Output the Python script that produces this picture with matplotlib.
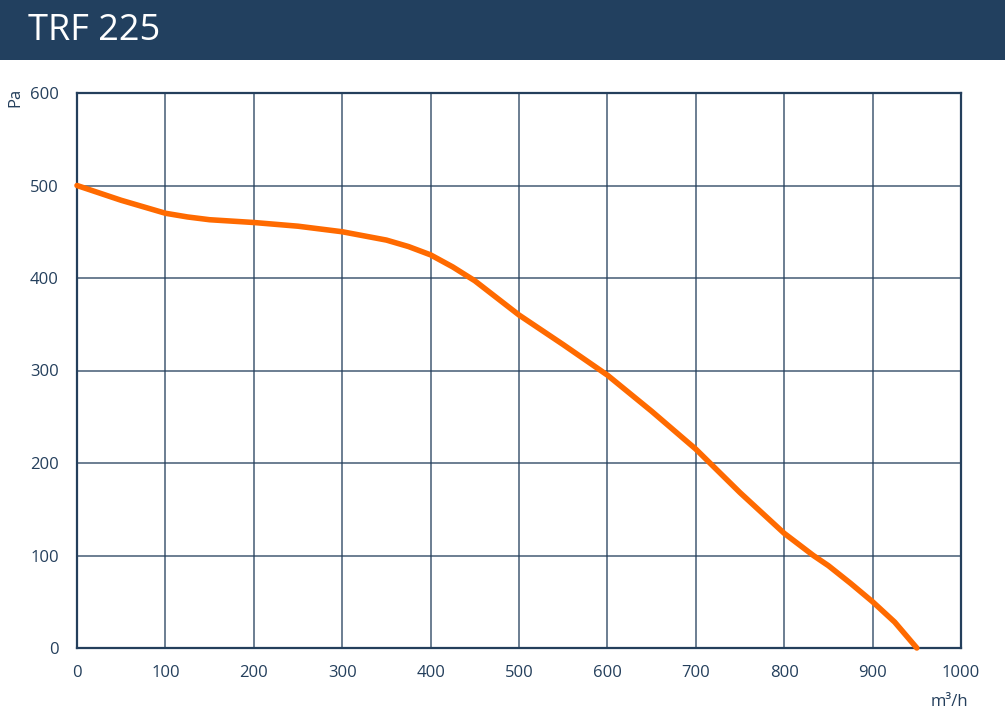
import matplotlib.pyplot as plt
from matplotlib.patches import Rectangle

# fan curve TRF 225
airflow = [0, 50, 100, 125, 150, 200, 250, 300, 350, 375, 400, 425, 450, 500,
           550, 600, 650, 700, 750, 800, 833, 850, 875, 900, 925, 950]
pressure = [500, 484, 470, 466, 463, 460, 456, 450, 441, 434, 425, 412, 397, 360,
            328, 295, 256, 215, 168, 124, 100, 89, 70, 50, 28, 0]

x_ticks = [0, 100, 200, 300, 400, 500, 600, 700, 800, 900, 1000]
y_ticks = [0, 100, 200, 300, 400, 500, 600]

TITLE = "TRF 225"
NAVY = "#22405f"
INK = "#243f5c"
ORANGE = "#ff6a00"

plt.rcParams["font.family"] = ["Open Sans", "DejaVu Sans"]

fig = plt.figure(figsize=(10.05, 7.17), dpi=100)

# title banner across the top
fig.patches.append(Rectangle((0, 1 - 60 / 717), 1, 60 / 717, transform=fig.transFigure,
                             facecolor=NAVY, edgecolor="none", zorder=0))
fig.text(28 / 1005, 1 - 31 / 717, TITLE, color="white", fontsize=26,
         ha="left", va="center")

ax = fig.add_axes([77 / 1005, 1 - 648 / 717, (961 - 77) / 1005, (648 - 93) / 717])
ax.plot(airflow, pressure, color=ORANGE, lw=4.0, solid_capstyle="round",
        solid_joinstyle="round", zorder=3, clip_on=False)

ax.set_xlim(0, 1000)
ax.set_ylim(0, 600)
ax.set_xticks(x_ticks)
ax.set_yticks(y_ticks)
ax.grid(True, color=INK, lw=1.1, alpha=0.85)
for s in ax.spines.values():
    s.set_color(INK)
    s.set_linewidth(1.6)
ax.tick_params(length=0, labelsize=12, colors=INK)
ax.tick_params(axis="x", pad=12)
ax.tick_params(axis="y", pad=13)

fig.text(15 / 1005, 1 - 97 / 717, "Pa", rotation=90, color=INK, fontsize=12,
         ha="center", va="center")
fig.text(949 / 1005, 1 - 702 / 717, "m³/h", color=INK, fontsize=12,
         ha="center", va="center")

fig.savefig("out.png", dpi=100)
